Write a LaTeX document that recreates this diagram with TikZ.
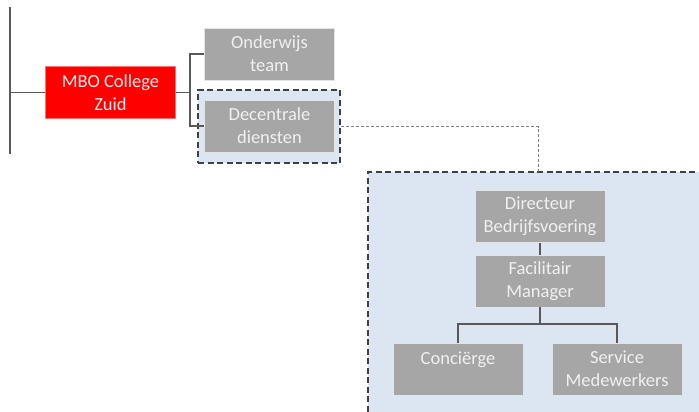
\documentclass[tikz,border=0pt]{standalone}
\usepackage{fontspec}
\setmainfont{Carlito}
\usetikzlibrary{positioning}
\definecolor{boxgray}{HTML}{A6A6A6}
\definecolor{panelblue}{HTML}{DCE6F2}
\definecolor{linegray}{HTML}{595959}
\definecolor{dashgray}{HTML}{404040}

\begin{document}
\begin{tikzpicture}[x=1pt,y=-1pt,
  unit/.style={rectangle,draw=white!70!boxgray,line width=0.8pt,fill=boxgray,text=white!94!black,
    minimum width=130pt,minimum height=52pt,inner sep=0pt,align=center,
    font=\fontsize{18.5}{23}\selectfont},
  college/.style={unit,fill=red,draw=red!55!white},
  panel/.style={rectangle,fill=panelblue,draw=dashgray,line width=1.7pt,dash pattern=on 6pt off 3.5pt,inner sep=0pt},
  link/.style={draw=linegray,line width=1.2pt},
  dotlink/.style={draw=gray,line width=1pt,dash pattern=on 3pt off 2pt}]
\useasboundingbox (0,0) rectangle (699,412);
\clip (0,0) rectangle (699,412);

% panels
\node[panel,minimum width=142pt,minimum height=73pt] (decpanel) at (269,126.5) {};
\node[panel,minimum width=362pt,minimum height=268pt] (bigpanel) at (549,306) {};

% upper part
\coordinate (rootT) at (10,7);
\coordinate (rootB) at (10,154);
\coordinate (rootM) at (10,92.5);
\coordinate (split) at (190,92.5);
\coordinate (paneltop) at (538,172);

\node[college] (mbo) at (110.5,92.5) {MBO College\\Zuid};
\node[unit] (team) at (269.5,54) {Onderwijs\\team};
\node[unit] (dec) at (269.5,126) {Decentrale\\diensten};

\draw[link] (rootT) -- (rootB);
\draw[link] (rootM) -- (mbo.west);
\draw[link] (mbo.east) -- (split);
\draw[link] (split) |- (team.west);
\draw[link] (split) |- (dec.west);
\draw[dotlink] (decpanel.east) -| (paneltop);

% facilitaire dienst
\node[unit] (dir) at (540,216.5) {Directeur\\Bedrijfsvoering};
\node[unit] (fac) at (540,281) {Facilitair\\Manager};
\node[unit] (conc) at (458,369.5) {Conciërge\\\mbox{}};
\node[unit] (serv) at (617,369) {Service\\Medewerkers};
\coordinate (fork) at (540,324);

\draw[link] (dir) -- (fac);
\draw[link] (fac.south) -- (fork);
\draw[link] (conc.north) |- (fork) -| (serv.north);
\end{tikzpicture}
\end{document}
